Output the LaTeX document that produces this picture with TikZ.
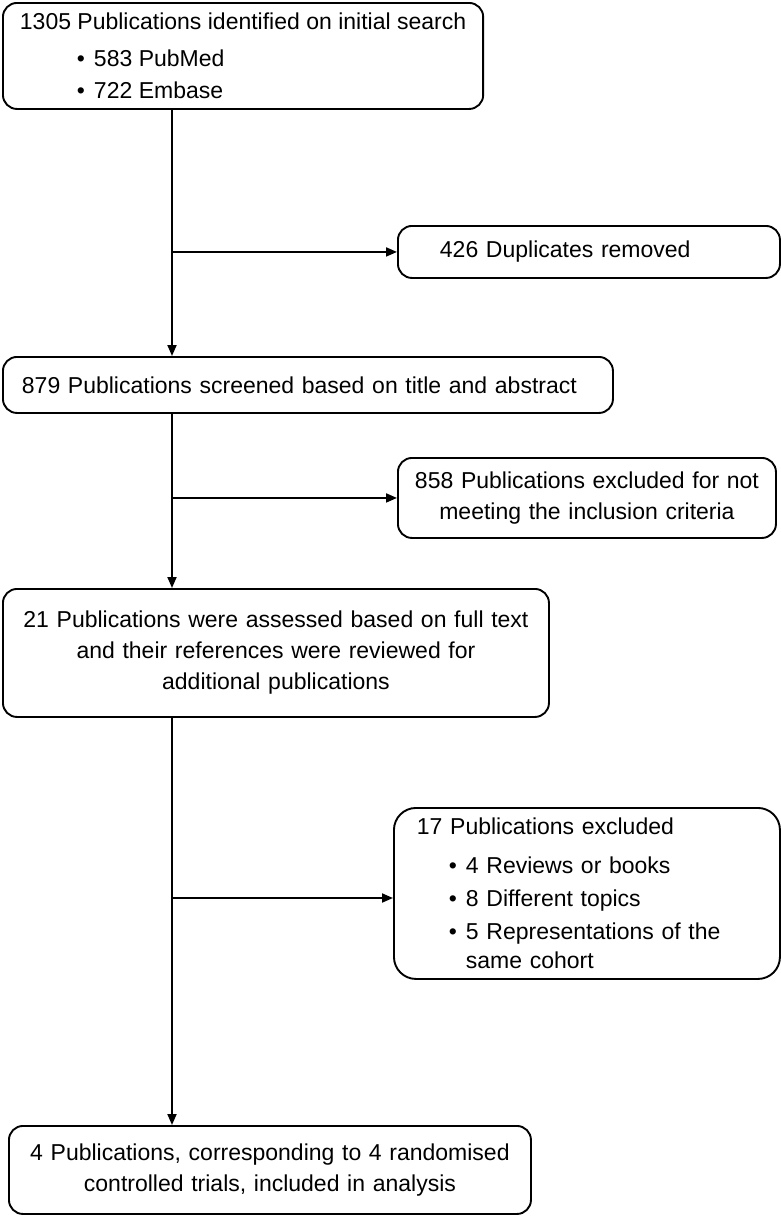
\documentclass[tikz,border=0pt]{standalone}
\usepackage{fontspec}
\setmainfont{Liberation Sans}
\usetikzlibrary{arrows.meta}
\begin{document}
\begin{tikzpicture}[x=1pt,y=-1pt,line width=1.9pt,
  box/.style={draw,rounded corners=14pt,anchor=north west,inner ysep=0pt,font=\fontsize{23}{31}\selectfont},
  arr/.style={-{Triangle[length=11pt,width=9pt]}}]
\useasboundingbox (0,0) rectangle (781,1216);
\coordinate (trunk) at (172,0);
\node[box,minimum height=106,inner xsep=17pt,align=left,font=\fontsize{23}{32}\selectfont] (search) at (2,2)
  {1305 Publications identified on initial search\\[5pt]
   \hspace*{57pt}\textbullet\hspace{9pt}583 PubMed\\
   \hspace*{57pt}\textbullet\hspace{9pt}722 Embase};
\node[box,minimum height=52,inner xsep=42pt,text width=298,align=left] (dup) at (397,225)
  {426 Duplicates removed};
\node[box,minimum height=56,inner xsep=19pt,text width=572,align=left] (screen) at (2,356)
  {879 Publications screened based on title and abstract};
\node[box,minimum height=80,inner xsep=10pt,text width=358,align=center] (notmet) at (397,457)
  {858 Publications excluded for not\\meeting the inclusion criteria};
\node[box,minimum height=128,inner xsep=15pt,text width=516,align=center] (full) at (2,588)
  {21 Publications were assessed based on full text\\and their references were reviewed for\\additional publications};
\node[box,rounded corners=22pt,minimum height=171,inner xsep=23pt,text width=340,align=left,font=\fontsize{23}{33}\selectfont] (excl) at (393,807)
  {17 Publications excluded\\[6pt]
   \hspace*{32pt}\textbullet\hspace{9pt}4 Reviews or books\\
   \hspace*{32pt}\textbullet\hspace{9pt}8 Different topics\\
   \hspace*{32pt}\textbullet\hspace{9pt}5 Representations of the\\[-4pt]
   \hspace*{49pt}same cohort};
\node[box,minimum height=88,inner xsep=12pt,text width=498,align=center] (rct) at (8,1125)
  {4 Publications, corresponding to 4 randomised\\controlled trials, included in analysis};
\draw[arr] (search.south -| trunk) -- (screen.north -| trunk);
\draw[arr] (dup.west -| trunk) -- (dup.west);
\draw[arr] (screen.south -| trunk) -- (full.north -| trunk);
\draw[arr] (notmet.west -| trunk) -- (notmet.west);
\draw[arr] (full.south -| trunk) -- (rct.north -| trunk);
\draw[arr] (trunk |- 0,898) -- (excl.west |- 0,898);
\end{tikzpicture}
\end{document}
